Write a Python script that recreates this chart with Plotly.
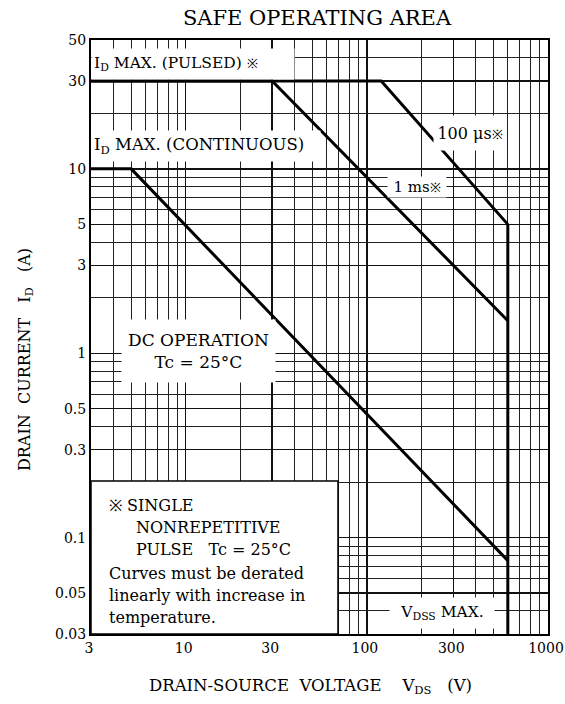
import math
import plotly.graph_objects as go

# ---------------- data ----------------
x_tick_vals = [3, 10, 30, 100, 300, 1000]
x_tick_text = ["3", "10", "30", "100", "300", "1000"]
y_tick_vals = [0.03, 0.05, 0.1, 0.3, 0.5, 1, 3, 5, 10, 30, 50]
y_tick_text = ["0.03", "0.05", "0.1", "0.3", "0.5", "1", "3", "5", "10", "30", "50"]

dc_vds = [3, 5, 600]
dc_id = [10, 10, 0.075]
ms1_vds = [3, 30, 600]
ms1_id = [30, 30, 1.5]
us100_vds = [3, 120, 600]
us100_id = [30, 30, 5]
vdss_vds = [600, 600]
vdss_id = [5, 0.03]

x_range = [3, 1000]
y_range = [0.03, 50]

# ---------------- layout helpers ----------------
W, H = 565, 704
L, R, T, B = 91, 548, 40, 634
FONT = "DejaVu Serif"


def px(x):
    return (x - L) / (R - L)


def py(y):
    return (B - y) / (B - T)


def minor_vals(lo, hi):
    vals = []
    k0 = math.floor(math.log10(lo))
    k1 = math.ceil(math.log10(hi))
    for k in range(k0, k1 + 1):
        for m in range(1, 10):
            v = m * 10 ** k
            if lo * 0.999 <= v <= hi * 1.001:
                vals.append(round(v, 6))
    return vals


fig = go.Figure()
line = dict(color="black", width=3)
for xs, ys in [(dc_vds, dc_id), (ms1_vds, ms1_id), (us100_vds, us100_id), (vdss_vds, vdss_id)]:
    fig.add_trace(go.Scatter(x=xs, y=ys, mode="lines", line=line, showlegend=False, hoverinfo="skip"))

axis_common = dict(
    type="log",
    showline=True, linecolor="black", linewidth=2, mirror=True,
    showgrid=True, gridcolor="#111", gridwidth=1.4,
    ticks="", zeroline=False, automargin=False,
    ticklabeloverflow="allow",
    tickfont=dict(family=FONT, size=14, color="black"),
)
fig.update_xaxes(
    **axis_common,
    range=[math.log10(x_range[0]), math.log10(x_range[1])],
    tickmode="array", tickvals=x_tick_vals, ticktext=x_tick_text,
    ticklabelshift=-2,
    minor=dict(tickmode="array", tickvals=minor_vals(*x_range), showgrid=True,
               gridcolor="#222", gridwidth=1),
)
fig.update_yaxes(
    **axis_common,
    range=[math.log10(y_range[0]), math.log10(y_range[1])],
    tickmode="array", tickvals=y_tick_vals, ticktext=y_tick_text,
    minor=dict(tickmode="array", tickvals=minor_vals(*y_range), showgrid=True,
               gridcolor="#222", gridwidth=1),
)

# white note box
fig.add_shape(type="rect", xref="paper", yref="paper",
              x0=0, x1=px(338), y0=0, y1=py(481),
              fillcolor="white", line=dict(color="black", width=1.5), layer="above")

ann = []


def add(text, x, y, xanchor="center", yanchor="middle", size=15, bg=None, w=None, h=None, pad=0, align="center", angle=0):
    d = dict(text=text, xref="paper", yref="paper", x=px(x), y=py(y), xanchor=xanchor, yanchor=yanchor,
             showarrow=False, font=dict(family=FONT, size=size, color="black"), align=align,
             borderpad=pad, textangle=angle)
    if bg:
        d["bgcolor"] = bg
    if w:
        d["width"] = w
    if h:
        d["height"] = h
    ann.append(d)


KOME = '<span style="font-size:13px;fill:#000000;color:#000000">※</span>'

# boxed labels
add("I<sub>D</sub> MAX. (PULSED) " + KOME, L, 64, xanchor="left", bg="white", w=198, h=26, pad=2, align="left", size=15.5)
add("I<sub>D</sub> MAX. (CONTINUOUS)", L, 146, xanchor="left", bg="white", w=224, h=26, pad=2, align="left", size=16.5)
add("100 μs" + KOME, 470, 133, bg="white", w=72, h=34, pad=0, size=16)
add("1 ms" + KOME, 417, 187, bg="white", w=58, h=20, pad=0, size=15)
add("DC OPERATION<br>Tc = 25°C", 198, 351, bg="white", w=153, h=62, pad=0, size=17)
add("V<sub>DSS</sub> MAX.", 442, 613, bg="white", w=104, h=30, pad=0, size=15.5)

# note text
note_lines = [
    ("※ SINGLE", 108, 505),
    ("NONREPETITIVE", 135, 527),
    ("PULSE&nbsp;&nbsp;&nbsp;Tc = 25°C", 135, 549),
    ("Curves must be derated", 108, 573),
    ("linearly with increase in", 108, 595),
    ("temperature.", 108, 617),
]
for t, x, y in note_lines:
    add(t, x, y, xanchor="left", size=16, align="left")

# axis titles
add("DRAIN-SOURCE&nbsp;&nbsp;VOLTAGE&nbsp;&nbsp;&nbsp;&nbsp;V<sub>DS</sub>&nbsp;&nbsp;&nbsp;(V)", 310, 686, size=16.5)
add("DRAIN&nbsp;&nbsp;CURRENT&nbsp;&nbsp;&nbsp;I<sub>D</sub>&nbsp;&nbsp;&nbsp;(A)", 25, 360, size=16, angle=-90)

fig.update_layout(
    width=W, height=H,
    margin=dict(l=L, r=W - R, t=T, b=H - B, autoexpand=False),
    paper_bgcolor="white", plot_bgcolor="white",
    title=dict(text="SAFE OPERATING AREA", x=317 / W, y=1 - 18 / H, xref="container", yref="container",
               xanchor="center", yanchor="middle", font=dict(family=FONT, size=21, color="black")),
    annotations=ann,
    showlegend=False,
)

fig.write_html("out.html",
               config={"displayModeBar": False, "staticPlot": True},
               post_script="document.body.style.margin='0px';document.body.style.overflow='hidden';")
